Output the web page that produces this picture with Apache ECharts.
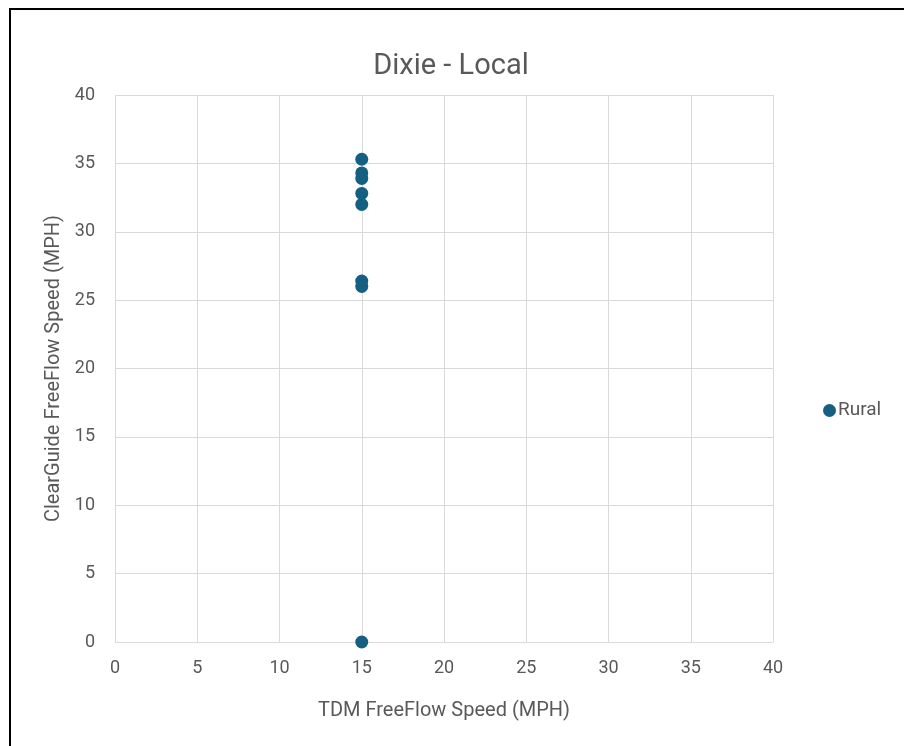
<!DOCTYPE html>
<html>
<head>
<meta charset="utf-8">
<script src="https://cdn.jsdelivr.net/npm/echarts@6/dist/echarts.min.js"></script>
<style>
  html, body { margin: 0; padding: 0; background: #fff; }
  #chart { width: 904px; height: 746px; }
</style>
</head>
<body>
<div id="chart"></div>
<script>
// Dixie - Local: ClearGuide vs TDM free-flow speed
const chartTitle = 'Dixie - Local';
const seriesName = 'Rural';
const tdmSpeed = [15, 15, 15, 15, 15, 15, 15, 15];
const clearGuideSpeed = [35.3, 34.3, 33.9, 32.8, 32.0, 26.4, 26.0, 0];
const xTicks = [0, 5, 10, 15, 20, 25, 30, 35, 40];
const yTicks = [0, 5, 10, 15, 20, 25, 30, 35, 40];

const points = tdmSpeed.map((x, i) => [x, clearGuideSpeed[i]]);
const textColor = '#595959';
const gridColor = '#d9d9d9';
const font = 'Roboto, "Liberation Sans", sans-serif';

const chart = echarts.init(document.getElementById('chart'), null, { renderer: 'canvas' });
chart.setOption({
  backgroundColor: '#ffffff',
  animation: false,
  title: {
    text: chartTitle,
    left: 446,
    top: 47,
    textAlign: 'center',
    textStyle: { color: textColor, fontSize: 29, fontWeight: 'normal', fontFamily: font }
  },
  legend: {
    data: [seriesName],
    left: 818,
    top: 396,
    icon: 'circle',
    itemWidth: 13,
    itemHeight: 13,
    itemGap: 4,
    textStyle: { color: textColor, fontSize: 19, fontFamily: font, padding: [0, 0, 0, -3] }
  },
  grid: { left: 115, right: 131, top: 95, bottom: 104, containLabel: false },
  xAxis: {
    type: 'value',
    min: xTicks[0],
    max: xTicks[xTicks.length - 1],
    interval: 5,
    name: 'TDM FreeFlow Speed (MPH)',
    nameLocation: 'middle',
    nameGap: 59,
    nameTextStyle: { color: textColor, fontSize: 20, fontFamily: font },
    axisLine: { show: true, lineStyle: { color: gridColor, width: 1 } },
    axisTick: { show: false },
    axisLabel: { color: textColor, fontSize: 18, fontFamily: font, margin: 17 },
    splitLine: { show: true, lineStyle: { color: gridColor, width: 1 } }
  },
  yAxis: {
    type: 'value',
    min: yTicks[0],
    max: yTicks[yTicks.length - 1],
    interval: 5,
    name: 'ClearGuide FreeFlow Speed (MPH)',
    nameLocation: 'middle',
    nameGap: 50,
    nameTextStyle: { color: textColor, fontSize: 20, fontFamily: font },
    axisLine: { show: false },
    axisTick: { show: false },
    axisLabel: { color: textColor, fontSize: 18, fontFamily: font, margin: 20 },
    splitLine: { show: true, lineStyle: { color: gridColor, width: 1 } }
  },
  series: [{
    name: seriesName,
    type: 'scatter',
    data: points,
    symbol: 'circle',
    symbolSize: 13,
    itemStyle: { color: '#156082', opacity: 1 }
  }],
  graphic: [{
    type: 'rect',
    shape: { x: 10, y: 9, width: 1000, height: 1000 },
    style: { fill: 'none', stroke: '#000000', lineWidth: 2 },
    silent: true
  }]
});
</script>
</body>
</html>
